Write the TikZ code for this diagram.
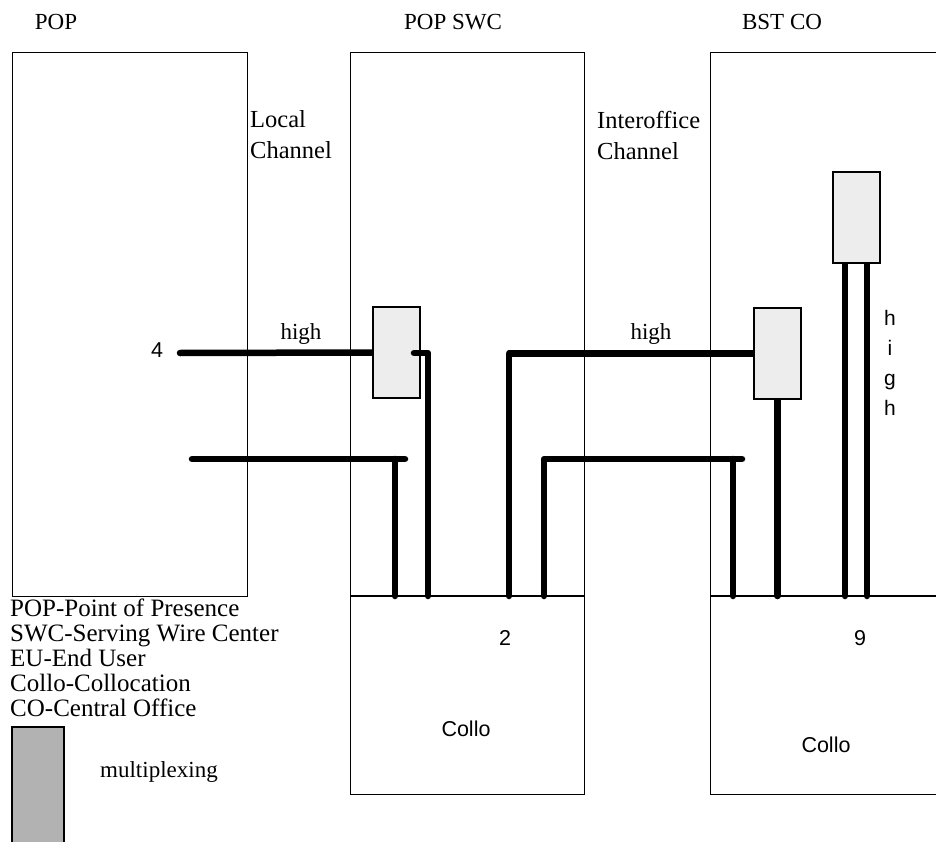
\documentclass[tikz,border=0pt]{standalone}
\usepackage{fontspec}
\setmainfont{Liberation Serif}
\newfontfamily\arialf{Liberation Sans}
\pgfdeclarelayer{bg}
\pgfsetlayers{bg,main}
\begin{document}
\begin{tikzpicture}[x=1pt,y=-1pt,
  site/.style={draw, line width=1.3pt, inner sep=0pt, anchor=north west},
  mux/.style={draw, line width=2pt, fill=gray!14, inner sep=0pt, minimum width=47pt, minimum height=91pt},
  legendbox/.style={draw, line width=2pt, fill=gray!60, inner sep=0pt, anchor=north west, minimum width=52pt, minimum height=130pt},
  wire/.style={line width=6.5pt, line cap=round, line join=round},
  divider/.style={line width=1.3pt},
  serif/.style={font=\fontsize{23}{27}\selectfont, inner sep=0pt},
  sans/.style={font=\arialf\fontsize{21.5}{25}\selectfont, inner sep=0pt}]
\useasboundingbox (0,0) rectangle (936,842);
\clip (0,0) rectangle (936,842);

% sites
\node[site, minimum width=235pt, minimum height=544pt] (pop) at (12,52) {};
\node[site, minimum width=234pt, minimum height=742pt] (swc) at (350,52) {};
\node[site, minimum width=245pt, minimum height=742pt] (bst) at (710,52) {};
\coordinate (sd) at (0,596);
\draw[divider] (swc.west |- sd) -- (swc.east |- sd);
\draw[divider] (bst.west |- sd) -- (bst.east |- sd);

% titles
\node[serif] (tpop) at (56,22) {POP};
\node[serif] (tswc) at (453,22) {POP SWC};
\node[serif] (tbst) at (782,22) {BST CO};
\node[serif, align=left, anchor=west, font=\fontsize{24.5}{31}\selectfont] (lc) at (250,135) {Local\\Channel};
\node[serif, align=left, anchor=west, font=\fontsize{24.5}{31}\selectfont] (ic) at (597,135) {Interoffice\\Channel};

% multiplexers
\node[mux] (m1) at (396,352.5) {};
\node[mux] (m2) at (777.5,353.5) {};
\node[mux] (m3) at (856.5,217.5) {};

% wires
\coordinate (a4) at (180,353);
\coordinate (b1) at (192,459);
\coordinate (b1e) at (405,459);
\coordinate (s1) at (395,596);
\coordinate (m1o) at (414,353);
\coordinate (s2) at (428,596);
\coordinate (s3) at (509,596);
\coordinate (s4) at (544,596);
\coordinate (c1e) at (742,459);
\coordinate (s5) at (733,596);
\begin{pgfonlayer}{bg}
\draw[wire] (a4) -- (m1.west);
\draw[wire] (s3) |- (m2.west);
\draw[wire] (m2.south) -- (m2.south |- sd);
\draw[wire] ([xshift=-11.5pt]m3.south) -- ([xshift=-11.5pt]m3.south |- sd);
\draw[wire] ([xshift=10.5pt]m3.south) -- ([xshift=10.5pt]m3.south |- sd);
\end{pgfonlayer}
\draw[wire] (b1) -- (b1e);
\draw[wire] (s1) -- (s1 |- b1);
\draw[wire] (m1o) -| (s2);
\draw[wire] (s4) |- (c1e);
\draw[wire] (s5) -- (s5 |- c1e);

% labels
\node[sans] (n4) at (157,350) {4};
\node[serif] (h1) at (301,334) {high};
\node[serif] (h2) at (651,334) {high};
\node[sans, align=center, font=\arialf\fontsize{21}{30}\selectfont] (hv) at (890,363) {h\\i\\g\\h};
\node[sans] (n2) at (505,638) {2};
\node[sans] (n9) at (860,638) {9};
\node[sans] (c1) at (466,729) {Collo};
\node[sans] (c2) at (826,745) {Collo};

% legend
\node[serif, align=left, anchor=north west, font=\fontsize{25}{24.8}\selectfont] (leg) at (10,599)
  {POP-Point of Presence\\SWC-Serving Wire Center\\EU-End User\\Collo-Collocation\\CO-Central Office};
\node[legendbox] (lb) at (11,726) {};
\node[serif, anchor=west] (mx) at (100,772) {multiplexing};
\end{tikzpicture}
\end{document}
